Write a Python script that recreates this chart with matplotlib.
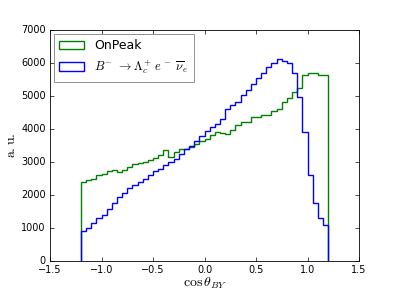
import numpy as np
import matplotlib
matplotlib.use("Agg")
import matplotlib.pyplot as plt

plt.style.use("classic")

# bin range of the histograms
x_min, x_max, n_bins = -1.2, 1.2, 48

onpeak = [2390, 2440, 2480, 2610, 2640, 2730, 2760, 2690,
          2760, 2860, 2940, 2965, 3015, 3066, 3120, 3200,
          3370, 3150, 3300, 3400, 3400, 3460, 3560, 3650,
          3700, 3830, 3920, 3880, 3850, 3980, 4120, 4200,
          4220, 4350, 4370, 4420, 4420, 4550, 4600, 4820,
          4950, 5130, 5240, 5640, 5700, 5700, 5630, 5630]

signal = [900, 1000, 1150, 1300, 1390, 1570, 1770, 1940,
          2050, 2200, 2290, 2380, 2500, 2610, 2720, 2800,
          2900, 3000, 3100, 3250, 3400, 3500, 3650, 3800,
          3950, 4050, 4150, 4300, 4600, 4720, 4830, 5030,
          5170, 5350, 5560, 5710, 5890, 5990, 6110, 6060,
          6010, 5690, 4980, 3920, 2610, 1755, 1300, 1100]

labels = ["OnPeak", r"$B^{-}\ \rightarrow\Lambda_c^+\,e^-\ \overline{\nu}_e$"]
xticks = [-1.5, -1.0, -0.5, 0.0, 0.5, 1.0, 1.5]
yticks = [0, 1000, 2000, 3000, 4000, 5000, 6000, 7000]

edges = np.linspace(x_min, x_max, n_bins + 1)
centers = 0.5 * (edges[:-1] + edges[1:])

fig = plt.figure(figsize=(3.99, 2.99), dpi=100)
fig.patch.set_facecolor("white")
ax = fig.add_axes([50 / 399, 38 / 299, 309 / 399, 231 / 299])

ax.hist(centers, bins=edges, weights=onpeak, histtype="step", color="g",
        lw=1.0, label=labels[0])
ax.hist(centers, bins=edges, weights=signal, histtype="step", color="b",
        lw=1.0, label=labels[1])

ax.set_xlim(-1.5, 1.5)
ax.set_ylim(0, 7000)
ax.set_xticks(xticks)
ax.set_yticks(yticks)
ax.tick_params(labelsize=7, length=3, width=0.5, pad=3)
for s in ax.spines.values():
    s.set_linewidth(0.6)

ax.set_xlabel(r"$\cos\theta_{BY}$", fontsize=10, labelpad=0)
ax.set_ylabel(r"$\mathrm{a.u.}$", fontsize=10, labelpad=2)

leg = ax.legend(loc="upper left", fontsize=9, frameon=True,
                borderaxespad=0.3, handlelength=2.0, handleheight=0.7,
                labelspacing=0.5, borderpad=0.45, handletextpad=0.8)
leg.get_frame().set_linewidth(0.5)
leg.get_frame().set_edgecolor("0.4")

fig.savefig("out.png", dpi=100, facecolor="white")
